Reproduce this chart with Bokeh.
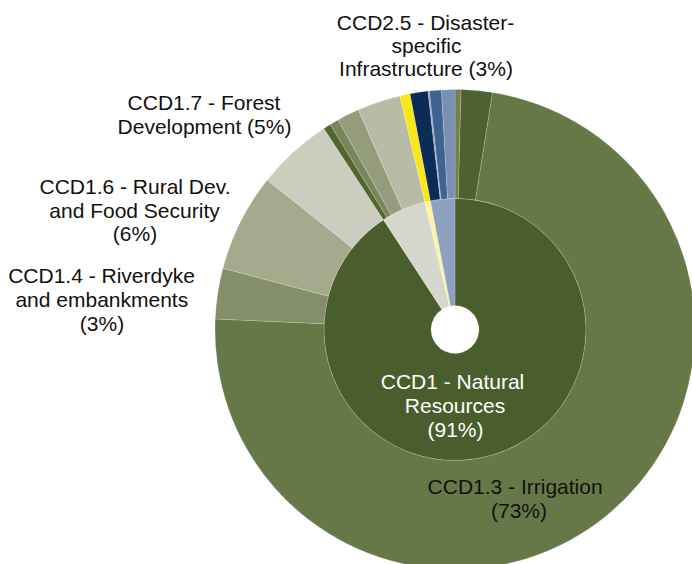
import numpy as np
from bokeh.plotting import figure
from bokeh.models import Range1d, ColumnDataSource
from bokeh.core.properties import value
from bokeh.embed import file_html
from bokeh.resources import INLINE

# ---------------- data ----------------
inner_names = ["CCD1 - Natural Resources", "CCD2", "CCD3", "CCD4"]
# children of each inner category (percent of total)
ccd1_names = ["CCD1.0", "CCD1.1", "CCD1.3 - Irrigation", "CCD1.4 - Riverdyke and embankments",
              "CCD1.6 - Rural Dev. and Food Security", "CCD1.7 - Forest Development"]
ccd1_values = [0.4, 2.1, 73.2, 3.4, 6.6, 5.1]
ccd2_names = ["CCD2.1", "CCD2.2", "CCD2.3", "CCD2.5 - Disaster-specific Infrastructure"]
ccd2_values = [0.5, 0.6, 1.5, 2.9]
ccd3_names = ["CCD3.1"]
ccd3_values = [0.7]
ccd4_names = ["CCD4.1", "CCD4.2", "CCD4.3", "CCD4.4"]
ccd4_values = [1.2, 0.1, 0.8, 0.9]

inner_colors = ["#4A5E2D", "#D6D8CD", "#FCF3A6", "#8EA2C0"]
ccd1_colors = ["#72804F", "#4E6230", "#677848", "#848E68", "#A5AA8D", "#CBCEBE"]
ccd2_colors = ["#536630", "#778757", "#959C7B", "#B9BBA5"]
ccd3_colors = ["#F8E71C"]
ccd4_colors = ["#0A2C57", "#8FA6C4", "#3F6390", "#7890B3"]

outside_labels = [
    ["CCD2.5 - Disaster-", "specific", "Infrastructure (3%)"],
    ["CCD1.7 - Forest", "Development (5%)"],
    ["CCD1.6 - Rural Dev.", "and Food Security", "(6%)"],
    ["CCD1.4 - Riverdyke", "and embankments", "(3%)"],
]
inner_label = ["CCD1 - Natural", "Resources", "(91%)"]
irrigation_label = ["CCD1.3 - Irrigation", "(73%)"]

# ---------------- geometry (layout) ----------------
W, H = 692, 564
CX, CY = 454.5, H - 329
R0, R1, R2 = 24, 131, 240

child_values = [ccd1_values, ccd2_values, ccd3_values, ccd4_values]
child_colors = [ccd1_colors, ccd2_colors, ccd3_colors, ccd4_colors]
inner_values = [sum(v) for v in child_values]
total = sum(inner_values)


def wedges(vals):
    cum = np.concatenate([[0], np.cumsum(vals)]) / total
    # clockwise from 12 o'clock -> standard angles
    start = np.pi / 2 - 2 * np.pi * cum[1:]
    end = np.pi / 2 - 2 * np.pi * cum[:-1]
    return start, end


p = figure(width=W, height=H, output_backend="svg", toolbar_location=None,
           x_range=Range1d(0, W), y_range=Range1d(0, H),
           x_axis_location=None, y_axis_location=None, min_border=0)
p.outline_line_color = None
p.grid.visible = False
p.background_fill_color = "white"

s_in, e_in = wedges(inner_values)
src_in = ColumnDataSource(dict(start=s_in, end=e_in, color=inner_colors, name=inner_names))
p.annular_wedge(x=CX, y=CY, inner_radius=R0, outer_radius=R1, start_angle="start", end_angle="end",
                fill_color="color", line_color="white", line_width=0.5, line_alpha=0.35, source=src_in)

out_vals = [v for vs in child_values for v in vs]
out_cols = [c for cs in child_colors for c in cs]
s_out, e_out = wedges(out_vals)
src_out = ColumnDataSource(dict(start=s_out, end=e_out, color=out_cols))
p.annular_wedge(x=CX, y=CY, inner_radius=R1, outer_radius=R2, start_angle="start", end_angle="end",
                fill_color="color", line_color="white", line_width=0.5, line_alpha=0.35, source=src_out)

FONT = value("Liberation Sans")
FS = "21px"


def put(lines, xs, ys, color):
    src = ColumnDataSource(dict(x=xs, y=[H - y for y in ys], t=lines))
    p.text(x="x", y="y", text="t", source=src, text_font=FONT, text_font_size=FS,
           text_color=color, text_align="center", text_baseline="middle")


label_x = [[425, 426, 425.5], [203.5, 204], [134.5, 134, 134.5], [101, 101.3, 101.5]]
label_y = [[21.6, 45, 68.3], [102, 125.5], [186, 209.6, 233.4], [275.2, 299, 323]]
for lines, xs, ys in zip(outside_labels, label_x, label_y):
    put(lines, xs, ys, "#111111")

put(inner_label, [452, 454.5, 455], [381.3, 405.2, 429], "white")
put(irrigation_label, [514.6, 518.5], [485.6, 509.6], "#111111")

open("out.html", "w").write(file_html(p, INLINE))
